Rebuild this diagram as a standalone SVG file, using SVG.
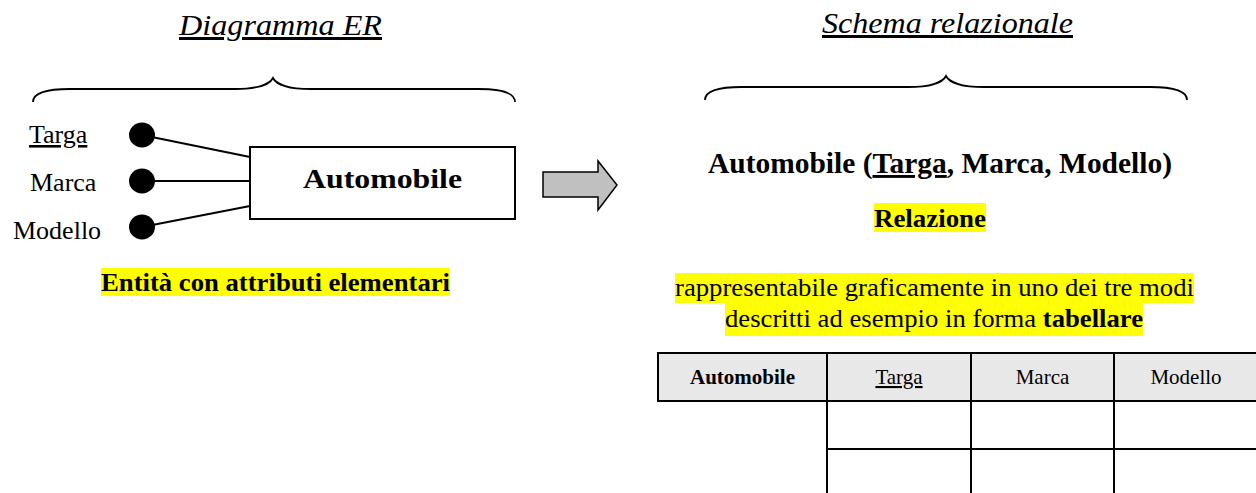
<svg xmlns="http://www.w3.org/2000/svg" width="1256" height="493" viewBox="0 0 1256 493">
  <style>
    text { font-family: "Liberation Serif", "Times New Roman", serif; fill: #000; }
    .title { font-size: 30px; font-style: italic; text-decoration: underline; }
    .attr { font-size: 26px; }
    .bold { font-weight: bold; }
    .ul { text-decoration: underline; }
    .hl { fill: #ffff00; }
    .brace { fill: none; stroke: #000; stroke-width: 1.8; }
    .conn { stroke: #000; stroke-width: 2; fill: none; }
    .cell { stroke: #000; stroke-width: 2; fill: none; }
    .th { font-size: 21px; }
  </style>

  <g id="title-er">
    <text class="title" x="179" y="35" textLength="203" lengthAdjust="spacingAndGlyphs">Diagramma ER</text>
  </g>
  <g id="title-rel">
    <text class="title" x="822" y="33" textLength="251" lengthAdjust="spacingAndGlyphs">Schema relazionale</text>
  </g>

  <g id="brace-left">
    <path class="brace" d="M33,102 C33,94 45,89 70,89 L235,89 C258,89 270,84 273,78 C276,84 288,89 311,89 L478,89 C503,89 515,94 515,102"/>
  </g>
  <g id="brace-right">
    <path class="brace" d="M705,100 C705,92 717,87 742,87 L908,87 C931,87 943,82 946,76 C949,82 961,87 984,87 L1150,87 C1175,87 1187,92 1187,100"/>
  </g>

  <g id="connectors">
    <line class="conn" x1="142" y1="135" x2="250" y2="157"/>
    <line class="conn" x1="142" y1="181" x2="250" y2="181"/>
    <line class="conn" x1="142" y1="227" x2="250" y2="206"/>
  </g>

  <g id="attr-targa">
    <ellipse cx="142" cy="135" rx="13" ry="12.5" fill="#000"/>
    <text class="attr ul" x="29" y="143">Targa</text>
  </g>
  <g id="attr-marca">
    <ellipse cx="142" cy="181" rx="13" ry="12.5" fill="#000"/>
    <text class="attr" x="30" y="191">Marca</text>
  </g>
  <g id="attr-modello">
    <ellipse cx="142" cy="227" rx="13" ry="12.5" fill="#000"/>
    <text class="attr" x="13" y="239">Modello</text>
  </g>

  <g id="entity-automobile">
    <rect x="250" y="147" width="265" height="72" fill="#fff" stroke="#000" stroke-width="2"/>
    <text class="bold" x="303" y="188" font-size="28" textLength="159" lengthAdjust="spacingAndGlyphs">Automobile</text>
  </g>

  <g id="label-entita">
    <rect class="hl" x="101" y="268" width="349" height="28"/>
    <text class="bold" x="101" y="291" font-size="25" textLength="349" lengthAdjust="spacingAndGlyphs">Entità con attributi elementari</text>
  </g>

  <g id="arrow">
    <polygon points="543,172 598,172 598,161 617,185 598,210 598,197 543,197" fill="#c0c0c0" stroke="#000" stroke-width="1.5" stroke-linejoin="miter"/>
  </g>

  <g id="relation-schema">
    <text class="bold" x="708" y="173" font-size="29" textLength="464" lengthAdjust="spacingAndGlyphs">Automobile (<tspan class="ul">Targa</tspan>, Marca, Modello)</text>
  </g>

  <g id="label-relazione">
    <rect class="hl" x="874" y="203" width="112" height="29"/>
    <text class="bold" x="874" y="227" font-size="25" textLength="112" lengthAdjust="spacingAndGlyphs">Relazione</text>
  </g>

  <g id="label-descr">
    <rect class="hl" x="675" y="273" width="519" height="30"/>
    <rect class="hl" x="725" y="303" width="418" height="33"/>
    <text x="675" y="296" font-size="26" textLength="519" lengthAdjust="spacingAndGlyphs">rappresentabile graficamente in uno dei tre modi</text>
    <text x="725" y="327" font-size="26" textLength="418" lengthAdjust="spacingAndGlyphs">descritti ad esempio in forma <tspan class="bold">tabellare</tspan></text>
  </g>

  <g id="table">
    <rect x="658" y="353" width="600" height="48" fill="#e8e8e8"/>
    <line class="cell" x1="657" y1="353" x2="1260" y2="353"/>
    <line class="cell" x1="657" y1="401" x2="1260" y2="401"/>
    <line class="cell" x1="827" y1="449" x2="1260" y2="449"/>
    <line class="cell" x1="658" y1="352" x2="658" y2="402"/>
    <line class="cell" x1="827" y1="352" x2="827" y2="495"/>
    <line class="cell" x1="971" y1="352" x2="971" y2="495"/>
    <line class="cell" x1="1114" y1="352" x2="1114" y2="495"/>
    <text class="th bold" x="742.5" y="384" text-anchor="middle">Automobile</text>
    <text class="th ul" x="899" y="384" text-anchor="middle">Targa</text>
    <text class="th" x="1042.5" y="384" text-anchor="middle">Marca</text>
    <text class="th" x="1186" y="384" text-anchor="middle">Modello</text>
  </g>
</svg>
